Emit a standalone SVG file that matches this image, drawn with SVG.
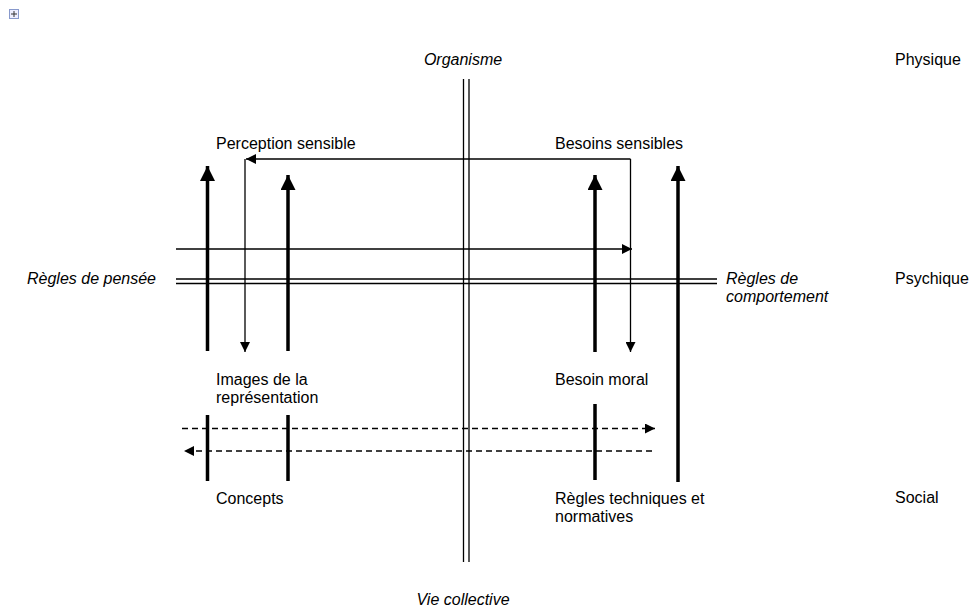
<svg xmlns="http://www.w3.org/2000/svg" width="969" height="607" viewBox="0 0 969 607">
<style>
text{font-family:"Liberation Sans",Arial,sans-serif;font-size:16px;fill:#000}
.it{font-style:italic}
.thin{stroke:#000;stroke-width:1.3;fill:none}
.thick{stroke:#000;stroke-width:3.5;fill:none}
.dash{stroke:#000;stroke-width:1.3;fill:none;stroke-dasharray:6,4}
</style>
<defs>
<marker id="ah" viewBox="0 0 10 10" refX="10" refY="5" markerWidth="10" markerHeight="10" markerUnits="userSpaceOnUse" orient="auto"><path d="M0,0L10,5L0,10Z" fill="#000"/></marker>
<marker id="ahb" viewBox="0 0 10 10" refX="10" refY="5" markerWidth="15" markerHeight="15" markerUnits="userSpaceOnUse" orient="auto"><path d="M0,0L10,5L0,10Z" fill="#000"/></marker>
</defs>
<g id="icon"><rect x="9.5" y="9.5" width="9" height="9" fill="#eef" stroke="#8899cc"/><path d="M14,11v6M11,14h6" stroke="#333" stroke-width="1"/></g>
<g id="connectors">
<path class="thin" d="M463.5,79V562M469,79V562"/>
<path class="thin" d="M176,279H717M176,283.5H717"/>
<path class="thin" d="M176,249H632" marker-end="url(#ah)"/>
<path class="thin" d="M630.5,159H246" marker-end="url(#ah)"/>
<path class="thin" d="M630.5,159V352" marker-end="url(#ah)"/>
<path class="thin" d="M245,159V352" marker-end="url(#ah)"/>
<path class="thick" d="M207.5,351V166" marker-end="url(#ahb)"/>
<path class="thick" d="M288,351V175" marker-end="url(#ahb)"/>
<path class="thick" d="M595,352V175" marker-end="url(#ahb)"/>
<path class="thick" d="M678,482V166" marker-end="url(#ahb)"/>
<path class="thick" d="M207.5,415V481M288,415V481M595,404V480"/>
<path class="dash" d="M182,428.5H655" marker-end="url(#ah)"/>
<path class="dash" d="M652,451H184" marker-end="url(#ah)"/>
</g>
<g id="organisme"><text class="it" x="463" y="65" text-anchor="middle">Organisme</text></g>
<g id="vie"><text class="it" x="463" y="605" text-anchor="middle">Vie collective</text></g>
<g id="physique"><text x="895" y="65">Physique</text></g>
<g id="psychique"><text x="895" y="284">Psychique</text></g>
<g id="social"><text x="895" y="503">Social</text></g>
<g id="perception"><text x="216" y="149">Perception sensible</text></g>
<g id="besoins"><text x="555" y="149">Besoins sensibles</text></g>
<g id="pensee"><text class="it" x="27" y="284">Règles de pensée</text></g>
<g id="comportement"><text class="it" x="726" y="284">Règles de</text><text class="it" x="726" y="302">comportement</text></g>
<g id="images"><text x="216" y="385">Images de la</text><text x="216" y="403">représentation</text></g>
<g id="moral"><text x="555" y="385">Besoin moral</text></g>
<g id="concepts"><text x="216" y="504">Concepts</text></g>
<g id="regles"><text x="555" y="504">Règles techniques et</text><text x="555" y="522">normatives</text></g>
</svg>
